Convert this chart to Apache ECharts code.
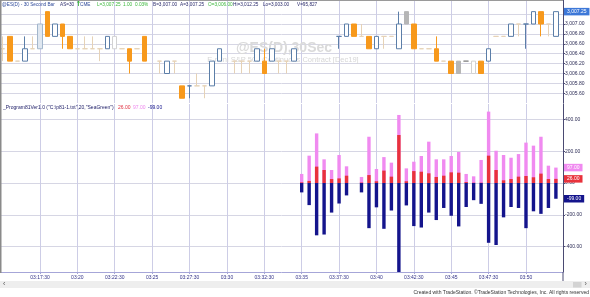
<!DOCTYPE html>
<html><head><meta charset="utf-8">
<script src="https://cdn.jsdelivr.net/npm/echarts@6/dist/echarts.min.js"></script>
<style>html,body{margin:0;padding:0;background:#fff}#c{width:590px;height:297px}</style>
</head><body><div id="c"></div>
<script>
// ---------- data ----------
const times = ['03:15:00','03:15:30','03:16:00','03:16:30','03:17:00','03:17:30','03:18:00','03:18:30','03:19:00','03:19:30',
  '03:20:00','03:20:30','03:21:00','03:21:30','03:22:00','03:22:30','03:23:00','03:23:30','03:24:00','03:24:30',
  '03:25:00','03:25:30','03:26:00','03:26:30','03:27:00','03:27:30','03:28:00','03:28:30','03:29:00','03:29:30',
  '03:30:00','03:30:30','03:31:00','03:31:30','03:32:00','03:32:30','03:33:00','03:33:30','03:34:00','03:34:30',
  '03:35:00','03:35:30','03:36:00','03:36:30','03:37:00','03:37:30','03:38:00','03:38:30','03:39:00','03:39:30',
  '03:40:00','03:40:30','03:41:00','03:41:30','03:42:00','03:42:30','03:43:00','03:43:30','03:44:00','03:44:30',
  '03:45:00','03:45:30','03:46:00','03:46:30','03:47:00','03:47:30','03:48:00','03:48:30','03:49:00','03:49:30',
  '03:50:00','03:50:30','03:51:00','03:51:30','03:52:00'];
const opens = [3006.50,3006.75,3006.25,3006.25,3006.50,3006.50,3007.25,3006.75,3007.00,3006.75,
  3006.50,3006.50,3006.50,3006.50,3006.50,3006.50,3006.50,3006.50,3006.50,3006.75,
  null,3006.25,3006.00,3006.25,3005.75,3005.75,3005.75,3005.75,3005.75,3006.25,
  null,3006.25,3006.25,3006.25,3006.25,3006.25,3006.25,3006.25,3006.25,3006.25,
  null,null,null,null,null,3006.75,3006.75,3007.00,3006.75,3006.75,
  3006.50,3006.75,3006.75,3006.50,3007.25,3007.00,3006.50,3006.50,3006.50,3006.25,
  3006.25,3006.25,3006.25,3006.00,3006.25,3006.25,3006.75,3006.75,3006.75,3007.00,
  3007.00,3007.00,3007.25,3007.00,3006.75];
const closes = [3006.50,3006.25,3006.25,3006.50,3006.50,3007.00,3006.75,3007.00,3006.75,3006.50,
  3006.50,3006.50,3006.50,3006.50,3006.75,3006.75,3006.50,3006.25,3006.50,3006.25,
  null,3006.25,3006.25,3006.25,3005.50,3005.75,3005.75,3005.75,3006.25,3006.50,
  null,3006.25,3006.25,3006.25,3006.50,3006.00,3006.50,3006.25,3006.25,3006.50,
  null,null,null,null,null,3006.75,3007.00,3006.75,3006.75,3006.50,
  3006.75,3006.75,3006.75,3007.00,3007.00,3006.50,3006.50,3006.50,3006.25,3006.25,
  3006.00,3006.00,3006.25,3006.25,3006.00,3006.50,3006.75,3006.75,3007.00,3007.00,
  3007.00,3007.25,3007.00,3007.00,3007.25];
const lows = [3006.25,3006.25,3006.25,3006.25,3006.50,3006.50,3006.75,3006.75,3006.50,3006.50,
  3006.50,3006.50,3006.50,3006.25,3006.50,3006.50,3006.50,3006.00,3006.50,3006.25,
  null,3006.00,3006.00,3006.00,3005.50,3005.50,3005.75,3005.50,3005.75,3006.25,
  null,3006.00,3006.00,3006.00,3006.25,3006.00,3006.25,3006.00,3006.00,3006.25,
  null,null,null,null,null,3006.50,3006.75,3006.75,3006.75,3006.50,
  3006.50,3006.50,3006.75,3006.50,3007.00,3006.50,3006.50,3006.50,3006.25,3006.25,
  3006.00,3006.00,3006.25,3006.00,3006.00,3006.25,3006.75,3006.75,3006.75,3006.75,
  3006.50,3007.00,3006.75,3006.75,3006.75];
const highs = [3006.75,3006.75,3006.25,3006.75,3006.75,3007.00,3007.25,3007.00,3007.00,3006.75,
  3006.50,3006.75,3006.75,3006.50,3006.75,3006.75,3006.50,3006.50,3006.50,3006.75,
  null,3006.25,3006.25,3006.25,3005.75,3005.75,3006.00,3005.75,3006.25,3006.50,
  null,3006.25,3006.25,3006.25,3006.50,3006.50,3006.50,3006.25,3006.25,3006.50,
  null,null,null,null,null,3006.75,3007.00,3007.00,3007.00,3006.75,
  3006.75,3006.75,3006.75,3007.25,3007.25,3007.00,3006.50,3006.50,3006.75,3006.25,
  3006.25,3006.25,3006.25,3006.25,3006.25,3006.50,3006.75,3006.75,3007.00,3007.00,
  3007.00,3007.25,3007.25,3007.00,3007.25];
// trading activity per bar: 2 = active, 1 = moderate, 0 = thin
const activity = [0,2,0,2,0,1,2,2,2,2, 0,0,0,0,2,0,0,2,0,2, 0,0,2,0,2,2,0,0,2,2,
  0,0,0,0,2,2,2,0,0,2, 0,0,0,0,0,2,2,2,0,2, 2,0,0,2,1,2,0,0,2,0,
  2,1,1,0,2,2,0,0,2,0, 2,2,2,0,2];

// lower pane (indicator) starts at 03:35:00
const flowStart = 40;
const violetVals = [57,172,312,149,82,176,105,null,38,291,88,163,128,428,92,134,170,260,149,149,
  170,195,57,42,145,449,203,176,159,182,254,235,291,109,97];
const redVals = [4,13,103,82,25,29,46,null,3,50,11,78,40,302,11,75,71,61,38,46,
  67,65,6,2,2,172,82,17,25,40,44,36,59,25,26];
const navyVals = [-59,-139,-329,-324,-186,-129,-78,null,-59,-284,-153,-288,-173,-560,-141,-271,-280,-186,-233,-157,
  -206,-273,-151,-108,-131,-376,-390,-216,-151,-157,-284,-178,-194,-157,-99];

const timeTicks = ['03:17:30','03:20:00','03:22:30','03:25:00','03:27:30','03:30:00','03:32:30','03:35:00',
  '03:37:30','03:40:00','03:42:30','03:45:00','03:47:30','03:50:00'];
const priceLabels = [3005.6,3005.8,3006.0,3006.2,3006.4,3006.6,3006.8,3007.0];
const priceTicks = [3005.6,3005.8,3006.0,3006.2,3006.4,3006.6,3006.8,3007.0,3007.2];
const flowTicks = [-400,-200,0,200,400];

// ---------- helpers ----------
const sec = s => { const p = s.split(':').map(Number); return p[0]*3600 + p[1]*60 + p[2]; };
const pad = n => String(n).padStart(2,'0');
const fmtTime = v => { const h = Math.floor(v/3600), m = Math.floor((v%3600)/60), s = Math.round(v%60);
  return pad(h)+':'+pad(m)+(s ? ':'+pad(s) : ''); };
const fmtNum = v => { const neg = v < 0; const a = Math.abs(v).toFixed(2); const [i, d] = a.split('.');
  return (neg?'-':'') + i.replace(/\B(?=(\d{3})+(?!\d))/g, ',') + '.' + d; };

const tickSecs = timeTicks.map(sec);
const xMin = sec(times[0]) - 10.4, xMax = sec(times[times.length-1]) + 28.5;

function candleColors(o, c, a) {
  if (c > o) {
    if (a === 2) return ['#ffffff', '#5b7ea8'];
    if (a === 1) return ['#dfe7f0', '#a3b7cc'];
    return ['#ffffff', '#d2d2d2'];
  }
  if (c < o) {
    if (a === 2) return ['#f7991c', '#f7991c'];
    if (a === 1) return ['#b6b6b6', '#b6b6b6'];
    return ['#f3d8b2', '#f3d8b2'];
  }
  if (a === 2) return ['#5b7ea8', '#5b7ea8'];
  if (a === 1) return ['#8c8c8c', '#8c8c8c'];
  return ['#e6d2b6', '#e6d2b6'];
}

const candleData = [];
times.forEach((t, i) => {
  if (opens[i] == null) return;
  const [fill, border] = candleColors(opens[i], closes[i], activity[i]);
  candleData.push({
    value: [sec(t), opens[i], closes[i], lows[i], highs[i]],
    itemStyle: { color: fill, color0: fill, borderColor: border, borderColor0: border, borderColorDoji: border, borderWidth: 1 }
  });
});
const flowTimes = times.slice(flowStart).map(sec);
const pairs = arr => arr.map((v, i) => v == null ? null : [flowTimes[i], v]).filter(Boolean);

const FONT = 'Liberation Sans, Arial, sans-serif';
const FS = 5;
const HFS = 4.7;
const lastBox = (val, bg) => ({
  symbol: 'none', silent: true, animation: false,
  lineStyle: { color: 'rgba(0,0,0,0)', width: 0 },
  label: { position: 'end', distance: 1, formatter: () => fmtNum(val), color: '#fff', backgroundColor: bg,
    fontSize: FS, fontFamily: FONT, padding: [1.5, 3, 1, 3] },
  data: [{ yAxis: val }]
});

const lastPrice = closes[closes.length - 1];
const lastV = violetVals[violetVals.length-1], lastR = redVals[redVals.length-1], lastN = navyVals[navyVals.length-1];

const chart = echarts.init(document.getElementById('c'), null, { renderer: 'canvas' });
const txt = (x, y, text, color, extra, size) => ({
  type: 'text', x, y, silent: true, z: 50,
  style: Object.assign({ text, fill: color, font: (size || FS) + 'px ' + FONT, textVerticalAlign: 'middle' }, extra || {})
});

const option = {
  animation: false,
  backgroundColor: '#ffffff',
  textStyle: { fontFamily: FONT },
  grid: [
    { left: 0, right: 27, top: 0, height: 103, outerBoundsMode: 'none', containLabel: false },
    { left: 0, right: 27, top: 104, height: 168, outerBoundsMode: 'none', containLabel: false }
  ],
  xAxis: [
    { type: 'value', gridIndex: 0, min: xMin, max: xMax,
      axisLine: { show: false, onZero: false }, axisTick: { show: false, customValues: tickSecs },
      axisLabel: { show: false, customValues: tickSecs },
      splitLine: { show: true, lineStyle: { color: '#cdcde6', width: 1 } } },
    { type: 'value', gridIndex: 1, min: xMin, max: xMax,
      axisLine: { show: true, onZero: false, lineStyle: { color: '#a6a6d8', width: 1 } },
      axisTick: { show: true, length: 2, customValues: tickSecs, lineStyle: { color: '#a6a6d8' } },
      axisLabel: { customValues: tickSecs, formatter: v => fmtTime(v), fontSize: FS, color: '#333388', margin: 3, fontFamily: FONT },
      splitLine: { show: true, lineStyle: { color: '#cdcde6', width: 1 } } }
  ],
  yAxis: [
    { type: 'value', gridIndex: 0, position: 'right', min: 3005.404, max: 3007.485,
      axisLine: { show: true, onZero: false, lineStyle: { color: '#4a4a72' } },
      axisTick: { show: true, length: 2, customValues: priceTicks, lineStyle: { color: '#4a4a72' } },
      axisLabel: { customValues: priceLabels, formatter: v => fmtNum(v), fontSize: FS, color: '#2b2b55', margin: 2, fontFamily: FONT },
      splitLine: { show: true, lineStyle: { color: '#d6d6e4', width: 1 } } },
    { type: 'value', gridIndex: 1, position: 'right', min: -559.7, max: 496.9,
      axisLine: { show: true, onZero: false, lineStyle: { color: '#4a4a72' } },
      axisTick: { show: true, length: 2, customValues: flowTicks, lineStyle: { color: '#4a4a72' } },
      axisLabel: { customValues: flowTicks, formatter: v => fmtNum(v), fontSize: FS, color: '#2b2b55', margin: 2, fontFamily: FONT },
      splitLine: { show: true, lineStyle: { color: '#d6d6e4', width: 1 } } }
  ],
  series: [
    { type: 'candlestick', xAxisIndex: 0, yAxisIndex: 0, barWidth: 5, encode: { x: 0, y: [1, 2, 3, 4] },
      data: candleData, markLine: lastBox(lastPrice, '#3d78d8') },
    { type: 'bar', name: 'violet', xAxisIndex: 1, yAxisIndex: 1, barWidth: 3.4, barGap: '-100%',
      itemStyle: { color: '#f08af0' }, data: pairs(violetVals), markLine: lastBox(lastV, '#f08af0') },
    { type: 'bar', name: 'red', xAxisIndex: 1, yAxisIndex: 1, barWidth: 3.4, barGap: '-100%',
      itemStyle: { color: '#e8323c' }, data: pairs(redVals), markLine: lastBox(lastR, '#e8323c') },
    { type: 'bar', name: 'navy', xAxisIndex: 1, yAxisIndex: 1, barWidth: 3.4, barGap: '-100%',
      itemStyle: { color: '#14148c' }, data: pairs(navyVals), markLine: lastBox(lastN, '#14148c') }
  ],
  graphic: [
    // frame
    { type: 'rect', shape: { x: 0, y: 0, width: 563, height: 1 }, style: { fill: '#9a9a9a' }, silent: true, z: 40 },
    { type: 'rect', shape: { x: 0, y: 0, width: 1.5, height: 273 }, style: { fill: '#8a8a8a' }, silent: true, z: 40 },
    { type: 'rect', shape: { x: 562.5, y: 272, width: 1, height: 9 }, style: { fill: '#4a4a72' }, silent: true, z: 40 },
    // watermark
    { type: 'text', x: 284, y: 48, silent: true, z: 1,
      style: { text: '@ES(D),30Sec', fill: '#dadada', font: 'bold 14px ' + FONT, textAlign: 'center', textVerticalAlign: 'middle' } },
    { type: 'text', x: 283, y: 60, silent: true, z: 1,
      style: { text: 'E-mini S&P 500 Continuous Contract [Dec19]', fill: '#d6d6d6', font: '7.5px ' + FONT, textAlign: 'center', textVerticalAlign: 'middle' } },
    // header
    txt(2, 4.5, '@ES(D) - 30 Second Bar', '#2f4a9a', null, HFS),
    txt(60, 4.5, 'AS=30', '#2c2c6c', null, HFS),
    txt(75.5, 4.5, '↑', '#2fae2f', { font: 'bold 7px DejaVu Sans' }),
    txt(80, 4.5, 'CME', '#2f4a9a', null, HFS),
    txt(97, 4.5, 'L=3,007.25', '#3cb83c', null, HFS),
    txt(123, 4.5, '1.00', '#3cb83c', null, HFS),
    txt(135, 4.5, '0.03%', '#3cb83c', null, HFS),
    txt(153, 4.5, 'B=3,007.00', '#2c2c6c', null, HFS),
    txt(180, 4.5, 'A=3,007.25', '#2c2c6c', null, HFS),
    txt(208, 4.5, 'O=3,006.00', '#3cb83c', null, HFS),
    txt(233, 4.5, 'Hi=3,012.25', '#2c2c6c', null, HFS),
    txt(263, 4.5, 'Lo=3,003.00', '#2c2c6c', null, HFS),
    txt(297, 4.5, 'V=95,827', '#2c2c6c', null, HFS),
    // indicator legend
    txt(3, 107.5, '_Program81Ver1.0 ("C:\\p81-1.txt",20,"SeaGreen")', '#22226a'),
    txt(118, 107.5, fmtNum(lastR), '#e03040'),
    txt(133, 107.5, fmtNum(lastV), '#ee88ee'),
    txt(148, 107.5, fmtNum(lastN), '#14148c'),
    // scrollbar
    { type: 'rect', shape: { x: 0, y: 281, width: 590, height: 7 }, style: { fill: '#eeeeee' }, silent: true, z: 30 },
    { type: 'rect', shape: { x: 573, y: 282, width: 8.5, height: 5.5 }, style: { fill: '#d3d3d3' }, silent: true, z: 31 },
    txt(3, 284.5, '‹', '#555555', { font: '7px ' + FONT }),
    txt(584.5, 284.5, '›', '#555555', { font: '7px ' + FONT }),
    // footer
    { type: 'text', x: 589, y: 292.5, silent: true, z: 50,
      style: { text: 'Created with TradeStation. ©TradeStation Technologies, Inc. All rights reserved', fill: '#333333',
        font: '5px ' + FONT, textAlign: 'right', textVerticalAlign: 'middle' } }
  ]
};
chart.setOption(option);
</script></body></html>
